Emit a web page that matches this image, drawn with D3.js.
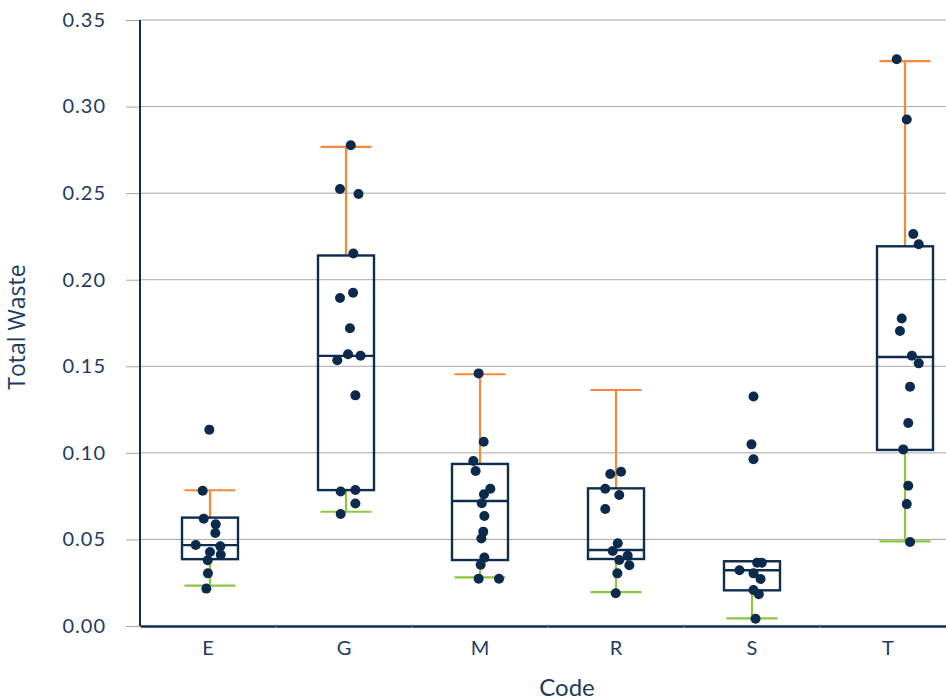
<!DOCTYPE html>
<html><head><meta charset="utf-8">
<script src="https://cdn.jsdelivr.net/npm/d3@7"></script>
<style>body{margin:0;background:#fff}svg{display:block}</style>
</head><body>
<script>
// ---- data ----
const categories = ["E","G","M","R","S","T"];
// box statistics: [lowerWhisker, Q1, median, Q3, upperWhisker]
const boxStats = [
  [0.0233,0.0386,0.0467,0.0626,0.0784],
  [0.0660,0.0785,0.1560,0.2140,0.2767],
  [0.0281,0.0381,0.0722,0.0936,0.1454],
  [0.0196,0.0387,0.0439,0.0795,0.1363],
  [0.0044,0.0206,0.0322,0.0374,0.0374],
  [0.0489,0.1017,0.1554,0.2193,0.3263]
];
const valuesE = [0.1134,0.0781,0.0620,0.0587,0.0537,0.0468,0.0460,0.0427,0.0412,0.0380,0.0304,0.0216];
const valuesG = [0.2777,0.2524,0.2495,0.2151,0.1894,0.1925,0.1720,0.1535,0.1570,0.1561,0.1332,0.0777,0.0785,0.0708,0.0647];
const valuesM = [0.1459,0.1064,0.0953,0.0895,0.0793,0.0761,0.0709,0.0635,0.0545,0.0505,0.0395,0.0354,0.0273,0.0273];
const valuesR = [0.0878,0.0891,0.0793,0.0757,0.0676,0.0478,0.0433,0.0406,0.0381,0.0351,0.0304,0.0189];
const valuesS = [0.1325,0.1049,0.0963,0.0366,0.0366,0.0322,0.0304,0.0271,0.0208,0.0183,0.0042];
const valuesT = [0.3273,0.2925,0.2264,0.2205,0.1776,0.1704,0.1561,0.1517,0.1382,0.1172,0.1020,0.0810,0.0704,0.0485];
// horizontal jitter of each point, as a fraction of the category band
const jitterE = [-0.005,-0.054,-0.046,0.042,0.039,-0.105,0.076,0.0,0.079,-0.017,-0.015,-0.027];
const jitterG = [0.035,-0.044,0.092,0.054,-0.044,0.052,0.029,-0.064,0.015,0.107,0.069,-0.039,0.069,0.069,-0.039];
const jitterM = [-0.010,0.027,-0.049,-0.032,0.076,0.029,0.013,0.032,0.024,0.010,0.032,0.005,-0.010,0.140];
const jitterR = [-0.042,0.037,-0.079,0.024,-0.079,0.013,-0.024,0.086,0.024,0.098,0.010,-0.002];
const jitterS = [0.011,-0.004,0.011,0.038,0.072,-0.092,0.011,0.063,0.011,0.050,0.026];
const jitterT = [-0.061,0.013,0.061,0.101,-0.024,-0.037,0.051,0.101,0.037,0.024,-0.013,0.024,0.013,0.037];
const seriesValues = [valuesE,valuesG,valuesM,valuesR,valuesS,valuesT];
const seriesJitter = [jitterE,jitterG,jitterM,jitterR,jitterS,jitterT];
const yTicks = [0,0.05,0.10,0.15,0.20,0.25,0.30,0.35];
const yLabel = "Total Waste", xLabel = "Code";

(function draw() {
// ---- layout ----
const W = 946, H = 700;
const mLeft = 140, mTop = 20, mBottom = 626, mRight = 956;
const boxShift = [2, 2, 0, 0, 0, 17]; // small offsets of boxes seen in the picture (px)
const navy = "#0f2d4f", textCol = "#1d3b61";
const fontFam = "Lato, 'Open Sans', sans-serif";

const svg = d3.select("body").append("svg").attr("width", W).attr("height", H);
const x = d3.scaleBand().domain(categories).range([mLeft, mRight]).padding(0);
const y = d3.scaleLinear().domain([0, 0.35]).range([mBottom, mTop]);

// grid + y axis ticks
const yAxis = d3.axisLeft(y).tickValues(yTicks).tickFormat(d3.format(".2f")).tickSize(14).tickPadding(20);
const gy = svg.append("g").attr("transform", `translate(${mLeft},0)`).call(yAxis);
gy.select(".domain").remove();
gy.selectAll(".tick line").attr("stroke", "#a6a6a6").attr("stroke-width", 1);
gy.selectAll(".tick text").attr("fill", textCol).style("font-family", fontFam)
  .style("font-size", "20px").style("letter-spacing", "1px");
svg.append("g").selectAll("line").data(yTicks.filter(d => d > 0)).join("line")
  .attr("x1", mLeft).attr("x2", W).attr("y1", d => y(d)).attr("y2", d => y(d))
  .attr("stroke", "#a6a6a6").attr("stroke-width", 1);

// y axis line
svg.append("line").attr("x1", mLeft).attr("x2", mLeft).attr("y1", mTop).attr("y2", mBottom)
  .attr("stroke", navy).attr("stroke-width", 2);

// x axis
const xAxis = d3.axisBottom(x).tickSize(0).tickPadding(15);
const gx = svg.append("g").attr("transform", `translate(0,${mBottom})`).call(xAxis);
gx.select(".domain").attr("stroke", navy).attr("stroke-width", 2.5);
gx.selectAll(".tick text").attr("fill", textCol).style("font-family", fontFam)
  .style("font-size", "20px");
// band boundary marks on the x axis
svg.append("g").selectAll("line").data(categories.slice(1)).join("line")
  .attr("x1", d => x(d)).attr("x2", d => x(d)).attr("y1", mBottom - 1.5).attr("y2", mBottom + 1.5)
  .attr("stroke", "#6d8199").attr("stroke-width", 1);

// boxes
const bw = x.bandwidth();
const boxW = 56, capW = 51;
categories.forEach((c, i) => {
  const [lo, q1, med, q3, hi] = boxStats[i];
  const cx = x(c) + bw / 2 + boxShift[i];
  const g = svg.append("g");
  g.append("line").attr("x1", cx).attr("x2", cx).attr("y1", y(q3)).attr("y2", y(hi))
    .attr("stroke", "#f5893a").attr("stroke-width", 2.2);
  g.append("line").attr("x1", cx - capW / 2).attr("x2", cx + capW / 2).attr("y1", y(hi)).attr("y2", y(hi))
    .attr("stroke", "#f5893a").attr("stroke-width", 2.2);
  g.append("line").attr("x1", cx).attr("x2", cx).attr("y1", y(q1)).attr("y2", y(lo))
    .attr("stroke", "#8cc63f").attr("stroke-width", 2.2);
  g.append("line").attr("x1", cx - capW / 2).attr("x2", cx + capW / 2).attr("y1", y(lo)).attr("y2", y(lo))
    .attr("stroke", "#8cc63f").attr("stroke-width", 2.2);
  g.append("rect").attr("x", cx - boxW / 2).attr("y", y(q3)).attr("width", boxW).attr("height", y(q1) - y(q3))
    .attr("fill", "none").attr("stroke", navy).attr("stroke-width", 2.4);
  g.append("line").attr("x1", cx - boxW / 2).attr("x2", cx + boxW / 2).attr("y1", y(med)).attr("y2", y(med))
    .attr("stroke", navy).attr("stroke-width", 2.4);
  const pts = seriesValues[i].map((v, k) => ({v, j: seriesJitter[i][k]}));
  g.selectAll("circle").data(pts).join("circle")
    .attr("cx", d => cx + d.j * bw).attr("cy", d => y(d.v)).attr("r", 5)
    .attr("fill", "#0c2a4c");
});

// axis titles
svg.append("text").attr("x", 567).attr("y", 696).attr("text-anchor", "middle")
  .attr("fill", textCol).style("font-family", fontFam).style("font-size", "24px").text(xLabel);
svg.append("text").attr("transform", "translate(25,327) rotate(-90)").attr("text-anchor", "middle")
  .attr("fill", textCol).style("font-family", "'Open Sans', sans-serif").style("font-size", "23px").text(yLabel);
})();
</script>
</body></html>
